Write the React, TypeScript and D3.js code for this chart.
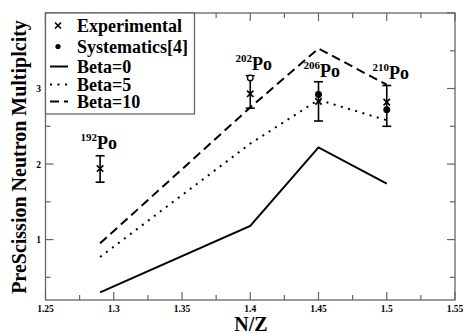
import { useEffect, useRef } from 'react'
import * as d3 from 'd3'

// N/Z of the four Po isotopes
const nz = [1.29, 1.4, 1.45, 1.5]
const isotopes = ['192', '202', '206', '210']

// model curves
const beta0 = [0.3, 1.18, 2.22, 1.74]
const beta5 = [0.77, 2.27, 2.85, 2.58]
const beta10 = [0.95, 2.75, 3.53, 3.05]

// experiment (value, low, high)
const expVal = [1.94, 2.93, 2.83, 2.82]
const expLo = [1.76, 2.74, 2.57, 2.5]
const expHi = [2.11, 3.17, 3.09, 3.04]

// systematics [4]
const sysNz = [1.4, 1.45, 1.5]
const sysVal = [3.14, 2.92, 2.72]

const xTicks = [1.25, 1.3, 1.35, 1.4, 1.45, 1.5, 1.55]
const yTicks = [1, 2, 3]

const legendItems = ['Experimental', 'Systematics[4]', 'Beta=0', 'Beta=5', 'Beta=10']

const W = 465, H = 334
const FONT = '"Liberation Serif", "Times New Roman", serif'

export default function App() {
  const ref = useRef<SVGSVGElement>(null)

  useEffect(() => {
    const svg = d3.select(ref.current!)
    svg.selectAll('*').remove()
    const x = d3.scaleLinear().domain([1.25, 1.55]).range([45.5, 455])
    const y = d3.scaleLinear().domain([0.2, 4]).range([300, 13])
    const frame = '#666'

    svg.append('rect').attr('width', W).attr('height', H).attr('fill', '#fff')

    // frame
    svg.append('rect').attr('x', x(1.25)).attr('y', y(4)).attr('width', x(1.55) - x(1.25))
      .attr('height', y(0.2) - y(4)).attr('fill', 'none').attr('stroke', frame).attr('stroke-width', 1.3)

    // ticks, all inward
    const g = svg.append('g').attr('stroke', frame).attr('stroke-width', 1.2)
    d3.range(1.25, 1.5501, 0.025).forEach((v, i) => {
      const len = i % 2 === 0 ? 8 : 5
      g.append('line').attr('x1', x(v)).attr('x2', x(v)).attr('y1', y(0.2)).attr('y2', y(0.2) - len)
      g.append('line').attr('x1', x(v)).attr('x2', x(v)).attr('y1', y(4)).attr('y2', y(4) + len)
    })
    d3.range(0.5, 4.0001, 0.5).forEach(v => {
      const len = Math.abs(v - Math.round(v)) < 1e-6 ? 8 : 5
      g.append('line').attr('x1', x(1.25)).attr('x2', x(1.25) + len).attr('y1', y(v)).attr('y2', y(v))
      g.append('line').attr('x1', x(1.55)).attr('x2', x(1.55) - len).attr('y1', y(v)).attr('y2', y(v))
    })

    const txt = svg.append('g').attr('font-family', FONT).attr('font-weight', 'bold').attr('fill', '#000')
    xTicks.forEach(v => {
      txt.append('text').attr('x', x(v)).attr('y', 312).attr('text-anchor', 'middle')
        .attr('font-size', 9.5).text(String(v))
    })
    yTicks.forEach(v => {
      txt.append('text').attr('x', 41).attr('y', y(v) + 3.5).attr('text-anchor', 'end')
        .attr('font-size', 9.5).text(String(v))
    })
    txt.append('text').attr('x', 251).attr('y', 331).attr('text-anchor', 'middle')
      .attr('font-size', 20).text('N/Z')
    txt.append('text').attr('transform', 'translate(26,157) rotate(-90)').attr('text-anchor', 'middle')
      .attr('font-size', 20).text('PreScission Neutron Multiplcity')

    // model lines
    const line = d3.line<number>().x((_, i) => x(nz[i])).y(d => y(d))
    const curves: [number[], string | null][] = [[beta0, null], [beta5, '2,5.5'], [beta10, '9,5']]
    curves.forEach(([vals, dash]) => {
      const p = svg.append('path').attr('d', line(vals)).attr('fill', 'none')
        .attr('stroke', '#000').attr('stroke-width', 2)
      if (dash) p.attr('stroke-dasharray', dash)
    })

    // error bars + crosses
    const cross = (cx: number, cy: number, s: number) =>
      `M${cx - s},${cy - s}L${cx + s},${cy + s}M${cx - s},${cy + s}L${cx + s},${cy - s}`
    nz.forEach((n, i) => {
      const cx = x(n)
      const eb = svg.append('g').attr('stroke', '#000').attr('stroke-width', 1.6)
      eb.append('line').attr('x1', cx).attr('x2', cx).attr('y1', y(expLo[i])).attr('y2', y(expHi[i]))
      eb.append('line').attr('x1', cx - 4.5).attr('x2', cx + 4.5).attr('y1', y(expLo[i])).attr('y2', y(expLo[i]))
      eb.append('line').attr('x1', cx - 4.5).attr('x2', cx + 4.5).attr('y1', y(expHi[i])).attr('y2', y(expHi[i]))
      eb.append('path').attr('d', cross(cx, y(expVal[i]), 3.2)).attr('fill', 'none')
    })
    sysNz.forEach((n, i) => {
      svg.append('circle').attr('cx', x(n)).attr('cy', y(sysVal[i])).attr('r', 2.8)
        .attr('fill', i === 0 ? '#fff' : '#000').attr('stroke', '#000').attr('stroke-width', 1.3)
    })

    // isotope labels
    const labPos: [number, number][] = [[97, 149], [252, 70], [320, 77], [389, 79]]
    isotopes.forEach((a, i) => {
      const [lx, ly] = labPos[i]
      txt.append('text').attr('x', lx).attr('y', ly - 8).attr('text-anchor', 'end')
        .attr('font-size', 11).text(a)
      txt.append('text').attr('x', lx).attr('y', ly).attr('font-size', 18).text('Po')
    })

    // legend
    svg.append('rect').attr('x', x(1.25)).attr('y', y(4)).attr('width', 149).attr('height', 101)
      .attr('fill', '#fff').attr('stroke', frame).attr('stroke-width', 1.3)
    const lg = svg.append('g').attr('font-family', FONT).attr('font-weight', 'bold').attr('fill', '#000')
    const rows = [31.5, 52.5, 72.5, 90.5, 107.5]
    legendItems.forEach((t, i) => {
      lg.append('text').attr('x', 77).attr('y', rows[i]).attr('font-size', 18).text(t)
      const cy = rows[i] - 6
      if (i === 0) {
        svg.append('path').attr('d', cross(58, cy, 3)).attr('stroke', '#000').attr('stroke-width', 1.6)
      } else if (i === 1) {
        svg.append('circle').attr('cx', 58).attr('cy', cy).attr('r', 2.6).attr('fill', '#000')
      } else {
        const l = svg.append('line').attr('x1', 50).attr('x2', 68).attr('y1', cy).attr('y2', cy)
          .attr('stroke', '#000').attr('stroke-width', 2)
        if (i === 3) l.attr('stroke-dasharray', '2,5.5')
        if (i === 4) l.attr('stroke-dasharray', '9,5')
      }
    })
  }, [])

  return (
    <div style={{ position: 'fixed', left: 0, top: 0 }}>
      <svg ref={ref} width={W} height={H} style={{ display: 'block' }} />
    </div>
  )
}
